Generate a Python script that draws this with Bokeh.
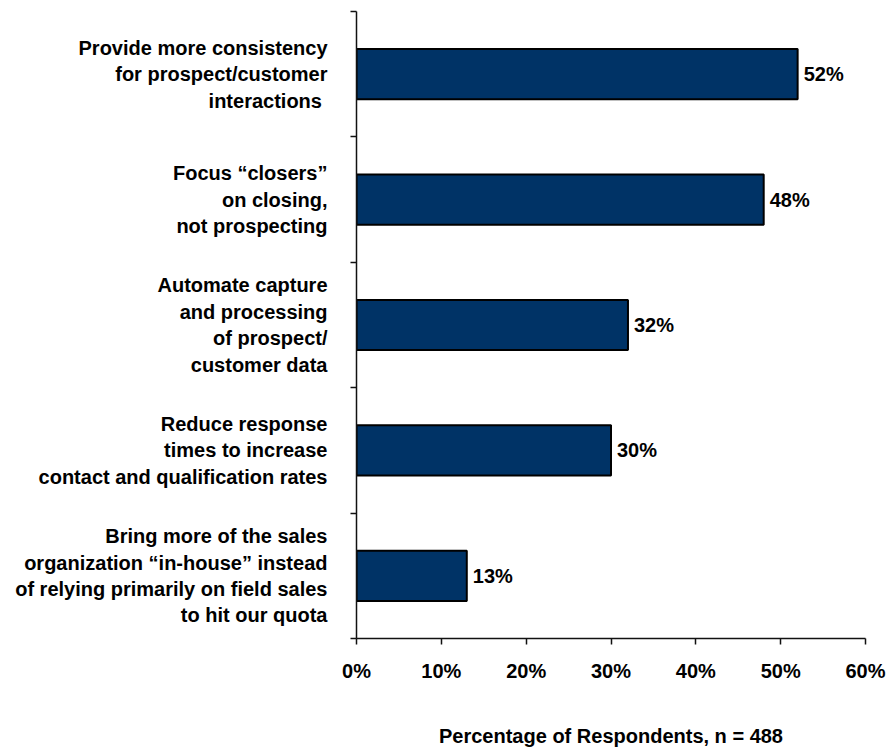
from bokeh.plotting import figure
from bokeh.models import FixedTicker, ColumnDataSource
from bokeh.core.properties import value
from bokeh.embed import file_html
from bokeh.resources import INLINE

categories = [
    "Provide more consistency\nfor prospect/customer\ninteractions ",
    "Focus \u201cclosers\u201d\non closing,\nnot prospecting",
    "Automate capture\nand processing\nof prospect/\ncustomer data",
    "Reduce response\ntimes to increase\ncontact and qualification rates",
    "Bring more of the sales\norganization \u201cin-house\u201d instead\nof relying primarily on field sales\nto hit our quota",
]
values = [52, 48, 32, 30, 13]
x_ticks = [0, 10, 20, 30, 40, 50, 60]
x_tick_labels = ["0%", "10%", "20%", "30%", "40%", "50%", "60%"]
x_title = "Percentage of Respondents, n = 488"

n = len(categories)
centers = [n - i - 0.5 for i in range(n)]
bounds = list(range(n + 1))

FONT = "Liberation Sans"

p = figure(width=888, height=749, output_backend="svg", toolbar_location=None,
           x_range=(0, 60), y_range=(0, n),
           min_border_left=356, min_border_right=23, min_border_top=11, min_border_bottom=106)
p.xgrid.visible = False
p.ygrid.visible = False
p.outline_line_color = None
p.background_fill_color = "white"
p.border_fill_color = "white"

src = ColumnDataSource(dict(y=centers, v=values, lab=[f"{v}%" for v in values]))
p.hbar(y="y", right="v", left=0, height=0.4, source=src,
       fill_color="#003366", line_color="black", line_width=2)
p.text(x="v", y="y", text="lab", source=src, x_offset=6, text_baseline="middle",
       text_align="left", text_font=value(FONT), text_font_style="bold",
       text_font_size="20px", text_color="black")

# x axis
xa = p.xaxis[0]
xa.ticker = FixedTicker(ticks=x_ticks)
xa.major_label_overrides = {t: l for t, l in zip(x_ticks, x_tick_labels)}
xa.major_tick_out = 6
xa.major_tick_in = 0
xa.minor_tick_out = 0
xa.minor_tick_in = 0
xa.axis_line_color = "#111111"
xa.axis_line_width = 1.5
xa.major_tick_line_color = "#111111"
xa.major_tick_line_width = 1.5
xa.major_label_standoff = 15
xa.major_label_text_font = FONT
xa.major_label_text_font_style = "bold"
xa.major_label_text_font_size = "20px"
xa.major_label_text_color = "black"
xa.axis_label = x_title
xa.axis_label_standoff = 40
xa.axis_label_text_font = FONT
xa.axis_label_text_font_style = "bold"
xa.axis_label_text_font_size = "20px"
xa.axis_label_text_color = "black"

# y axis
ya = p.yaxis[0]
ya.ticker = FixedTicker(ticks=centers, minor_ticks=bounds)
ya.major_label_overrides = {c: cat for c, cat in zip(centers, categories)}
ya.major_tick_out = 0
ya.major_tick_in = 0
ya.major_tick_line_color = None
ya.minor_tick_out = 6
ya.minor_tick_in = 0
ya.minor_tick_line_color = "#111111"
ya.minor_tick_line_width = 1.5
ya.axis_line_color = "#111111"
ya.axis_line_width = 1.5
ya.major_label_standoff = 23
ya.major_label_text_font = FONT
ya.major_label_text_font_style = "bold"
ya.major_label_text_font_size = "20px"
ya.major_label_text_color = "black"
ya.major_label_text_align = "right"
ya.major_label_text_line_height = 1.2

open("out.html", "w").write(file_html(p, INLINE))
